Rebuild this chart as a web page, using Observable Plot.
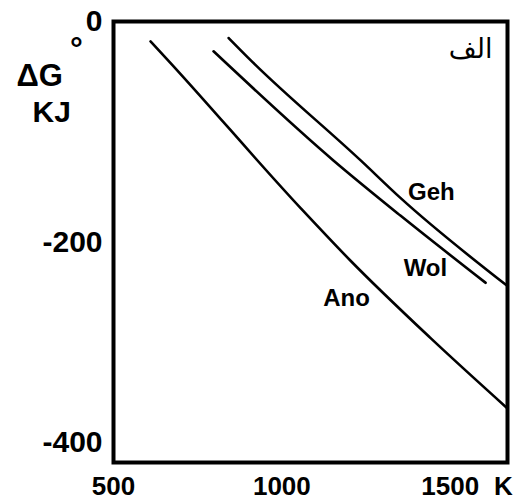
<!DOCTYPE html>
<html>
<head>
<meta charset="utf-8">
<script src="https://cdn.jsdelivr.net/npm/d3@7"></script>
<script src="https://cdn.jsdelivr.net/npm/@observablehq/plot@0.6"></script>
<style>
  html, body { margin: 0; padding: 0; background: #fff; }
</style>
</head>
<body>
<div id="chart"></div>
<script>
// Standard Gibbs energy of formation (kJ) versus temperature (K)
const anoT = [610, 660, 1055, 1204, 1441, 1670];
const anoG = [-18, -34.5, -169, -217, -287, -351];

const wolT = [797, 1153, 1352, 1605];
const wolG = [-27, -126, -176, -237];

const gehT = [842, 907, 1234, 1352, 1670];
const gehG = [-15, -35, -126, -160, -240];

const phases = ["Ano", "Wol", "Geh"];
const xTicks = [500, 1000, 1500];
const yTicks = [0, -200, -400];

const series = {Ano: [anoT, anoG], Wol: [wolT, wolG], Geh: [gehT, gehG]};
const rows = phases.flatMap(p => series[p][0].map((T, i) => ({phase: p, T, G: series[p][1][i]})));

const font = "'Liberation Sans', Arial, Helvetica, sans-serif";
const bold = {fontWeight: "bold", fill: "black"};

// curve name placed next to a chosen point of its own curve
const curveLabel = (p, i, dx, dy) =>
  Plot.text([rows.filter(r => r.phase === p)[i]], {
    x: "T", y: "G", text: "phase", dx, dy, fontSize: 24, textAnchor: "middle", ...bold
  });

const chart = Plot.plot({
  width: 530,
  height: 504,
  marginLeft: 113,
  marginRight: 23,
  marginTop: 21,
  marginBottom: 42,
  x: {domain: [500, 1670]},
  y: {domain: [-400, 0]},
  style: {fontFamily: font, background: "white", color: "black", overflow: "visible"},
  marks: [
    Plot.axisX(xTicks, {tickSize: 0, tickPadding: 14, fontSize: 26, ...bold, label: null, tickFormat: d => String(d)}),
    Plot.axisY(yTicks.slice(0, 2), {tickSize: 0, tickPadding: 11, fontSize: 30, ...bold, label: null, tickFormat: d => String(d)}),
    Plot.axisY(yTicks.slice(2), {tickSize: 0, tickPadding: 11, dy: -20, fontSize: 30, ...bold, label: null, tickFormat: d => String(d)}),
    Plot.line(rows, {x: "T", y: "G", z: "phase", stroke: "black", strokeWidth: 2.6, curve: "monotone-x"}),
    Plot.frame({stroke: "black", strokeWidth: 4}),
    curveLabel("Geh", 3, 31, -6),
    curveLabel("Wol", 2, 25, 53),
    curveLabel("Ano", 3, -4, 38),
    // axis titles
    Plot.text(["ΔG"], {frameAnchor: "top-left", dx: -97, dy: 42, textAnchor: "start", fontSize: 31, ...bold}),
    Plot.text(["°"], {frameAnchor: "top-left", dx: -37, dy: 15, textAnchor: "middle", fontSize: 32, ...bold}),
    Plot.text(["KJ"], {frameAnchor: "top-left", dx: -81, dy: 79, textAnchor: "start", fontSize: 30, ...bold}),
    Plot.text(["K"], {frameAnchor: "bottom-right", dx: -4, dy: 14, lineAnchor: "top", textAnchor: "middle", fontSize: 26, ...bold}),
    // panel tag
    Plot.text(["الف"], {frameAnchor: "top-right", dx: -15, dy: 17, textAnchor: "end", fontSize: 27, fill: "black", fontFamily: "'DejaVu Sans', sans-serif"})
  ]
});

document.getElementById("chart").append(chart);
</script>
</body>
</html>
